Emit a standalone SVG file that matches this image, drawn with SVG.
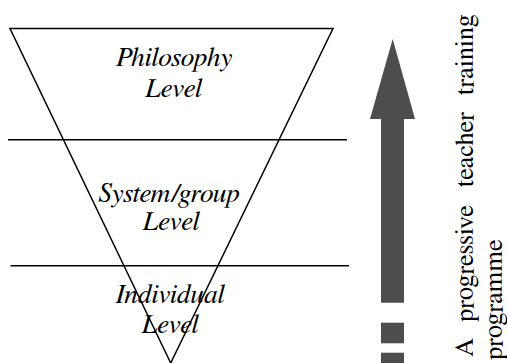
<svg xmlns="http://www.w3.org/2000/svg" width="507" height="363" viewBox="0 0 507 363">
<style>
.ln{stroke:#000;stroke-width:1.5;fill:none}
.lbl{font-family:FreeSerif,"Noto Serif",serif;font-style:italic;font-size:27.5px;fill:#000;text-anchor:middle}
.side{font-family:FreeSerif,"Noto Serif",serif;font-size:26.5px;fill:#000}
.arr{fill:#4d4d4d}
</style>
<rect width="507" height="363" fill="#fff"/>
<g id="connectors">
<polygon class="ln" points="10,28.5 333,28.5 170.7,363" stroke-linejoin="miter"/>
<line class="ln" x1="8" y1="139.7" x2="347" y2="139.7"/>
<line class="ln" x1="10.5" y1="265.7" x2="349" y2="265.7"/>
</g>
<g id="philosophy">
<text class="lbl" x="174" y="66">Philosophy</text>
<text class="lbl" x="173.5" y="97">Level</text>
</g>
<g id="system">
<text class="lbl" x="169" y="202">System/group</text>
<text class="lbl" x="171" y="230">Level</text>
</g>
<g id="individual">
<text class="lbl" x="170" y="303">Individual</text>
<text class="lbl" x="170" y="333">Level</text>
</g>
<g id="arrow">
<polygon class="arr" points="392.7,39 415,119 404,119 404,302.7 381,302.7 381,119 370,119"/>
<rect class="arr" x="381" y="322.7" width="23" height="20.6"/>
<rect class="arr" x="381" y="352.7" width="23" height="12"/>
</g>
<g id="side-label">
<text class="side" transform="translate(473,347.5) rotate(-90)" text-anchor="middle">A</text>
<text class="side" transform="translate(473,263.5) rotate(-90)" text-anchor="middle">progressive</text>
<text class="side" transform="translate(473,149.5) rotate(-90)" text-anchor="middle">teacher</text>
<text class="side" transform="translate(473,55) rotate(-90)" text-anchor="middle">training</text>
<text class="side" transform="translate(502,360) rotate(-90)">programme</text>
</g>
</svg>
